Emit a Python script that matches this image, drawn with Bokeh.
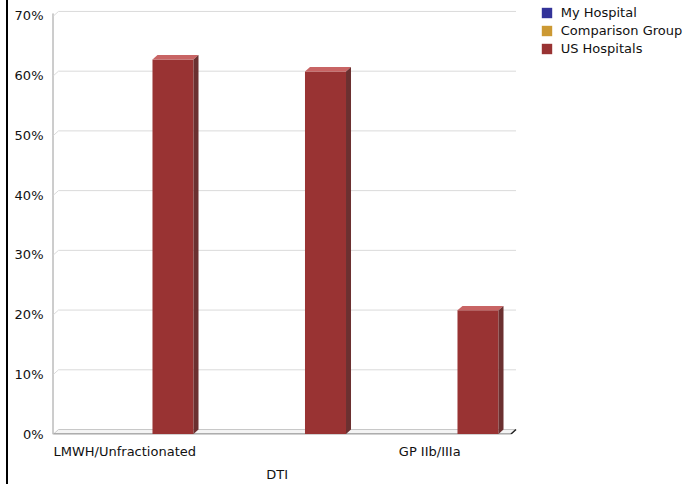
import math

from bokeh.plotting import figure
from bokeh.models import Range1d, FixedTicker, LinearAxis, Legend, LegendItem, ColumnDataSource
from bokeh.embed import file_html
from bokeh.resources import INLINE

# ---- data -------------------------------------------------------------
categories = ["LMWH/Unfractionated", "DTI", "GP IIb/IIIa"]
series_names = ["My Hospital", "Comparison Group", "US Hospitals"]
my_hospital = [None, None, None]
comparison_group = [None, None, None]
us_hospitals = [62.7, 60.7, 20.7]
y_ticks = [0, 10, 20, 30, 40, 50, 60, 70]

series_values = [my_hospital, comparison_group, us_hospitals]
front_colors = ["#333399", "#CC9933", "#993333"]
top_colors = ["#6262C0", "#E0B860", "#C86464"]
side_colors = ["#22226B", "#8C6A22", "#6B3030"]

FONT = "DejaVu Sans"
FS = "13px"

# ---- geometry in data units ------------------------------------------
n = len(categories)
px_per_x = 152.5          # pixels per category
px_per_y = 6.0            # pixels per percent
depth_x = 5 / px_per_x    # 3D depth offset (right)
depth_y = 4.5 / px_per_y  # 3D depth offset (up)
bar_w = 0.269
bar_step = 0.2836
label_shift = -5 / px_per_x   # category labels sit a little left of the slot centre

frame_top, frame_bottom, frame_left = 0, 436, 51
x0 = -2 / px_per_x
y0 = -0.5 / px_per_y
p = figure(
    width=686, height=484,
    x_range=Range1d(x0, x0 + (686 - frame_left) / px_per_x),
    y_range=Range1d(y0, y0 + (frame_bottom - frame_top) / px_per_y),
    output_backend="svg", toolbar_location=None,
    min_border_left=frame_left, min_border_right=0,
    min_border_top=frame_top, min_border_bottom=484 - frame_bottom,
    border_fill_color=None, background_fill_color=None,
    outline_line_color=None,
    styles={"background-image": "linear-gradient(to right, transparent 6px, #000 6px, #000 8px, transparent 8px)"},
)
p.xgrid.visible = False
p.ygrid.visible = False

# ---- y axis ----------------------------------------------------------
p.yaxis.ticker = FixedTicker(ticks=y_ticks)
p.yaxis.major_label_overrides = {t: f"{t}%" for t in y_ticks}
p.yaxis.axis_line_color = None
p.yaxis.major_tick_line_color = None
p.yaxis.major_tick_out = 0
p.yaxis.major_tick_in = 0
p.yaxis.minor_tick_line_color = None
p.yaxis.major_label_standoff = 8
p.yaxis.major_label_text_font = FONT
p.yaxis.major_label_text_font_size = FS
p.yaxis.major_label_text_color = "#111111"

# vertical axis line, a little taller than the top tick
axis_x = x0 + 1.5 / px_per_x
p.line([axis_x, axis_x], [y0, y_ticks[-1] + 2.5 / px_per_y],
       line_color="#9A9A9A", line_width=1)

# ---- x axes (staggered category labels) -----------------------------
centers = [i + 0.5 for i in range(n)]
label_pos = [c + label_shift for c in centers]
row1 = [label_pos[i] for i in range(n) if i % 2 == 0]
row2 = [label_pos[i] for i in range(n) if i % 2 == 1]

def style_x(ax, ticks, standoff):
    ax.ticker = FixedTicker(ticks=ticks)
    ax.major_label_overrides = {t: categories[label_pos.index(t)] for t in ticks}
    ax.axis_line_color = None
    ax.major_tick_line_color = None
    ax.major_tick_out = 0
    ax.major_tick_in = 0
    ax.minor_tick_line_color = None
    ax.major_label_standoff = standoff
    ax.major_label_text_font = FONT
    ax.major_label_text_font_size = FS
    ax.major_label_text_color = "#111111"

style_x(p.xaxis[0], row1, 9)
ax2 = LinearAxis()
style_x(ax2, row2, 5)
p.add_layout(ax2, "below")

# ---- back wall grid lines and floor ---------------------------------
x_end = float(n)
for t in y_ticks[1:]:
    p.line([0, depth_x, x_end + depth_x], [t, t + depth_y, t + depth_y],
           line_color="#DADADA", line_width=1)

p.patch([0, x_end, x_end + depth_x, depth_x], [0, 0, depth_y, depth_y],
        fill_color="#F4F4F4", line_color="#C8C8C8", line_width=1)
p.line([0, x_end], [0, 0], line_color="#9C9C9C", line_width=1.5)
p.line([x_end, x_end + depth_x], [0, depth_y], line_color="#222222", line_width=1.5)

# ---- 3D bars ---------------------------------------------------------
legend_items = []
for j, vals in enumerate(series_values):
    off = (j - 1) * bar_step
    lefts, rights, tops = [], [], []
    for i, v in enumerate(vals):
        c = centers[i] + off
        lefts.append(c - bar_w / 2)
        rights.append(c + bar_w / 2)
        tops.append(float("nan") if v is None else v)
    src = ColumnDataSource(dict(left=lefts, right=rights, top=tops, bottom=[0.0] * n))
    r = p.quad(left="left", right="right", top="top", bottom="bottom", source=src,
               fill_color=front_colors[j], line_color=None)
    legend_items.append(LegendItem(label=series_names[j], renderers=[r]))

    top_xs, top_ys, side_xs, side_ys = [], [], [], []
    for l, rr, v in zip(lefts, rights, tops):
        if math.isnan(v):
            continue
        top_xs.append([l, rr, rr + depth_x, l + depth_x])
        top_ys.append([v, v, v + depth_y, v + depth_y])
        side_xs.append([rr, rr + depth_x, rr + depth_x, rr])
        side_ys.append([0, depth_y, v + depth_y, v])
    if top_xs:
        p.patches(top_xs, top_ys, fill_color=top_colors[j], line_color=None)
        p.patches(side_xs, side_ys, fill_color=side_colors[j], line_color=None)

# ---- legend ----------------------------------------------------------
legend = Legend(
    items=legend_items, location=(488.7, 377),
    glyph_width=13, glyph_height=13, label_height=18, spacing=0,
    label_standoff=8, padding=0, margin=0,
    label_text_font=FONT, label_text_font_size=FS, label_text_color="#111111",
    border_line_color=None, background_fill_alpha=0,
)
p.add_layout(legend, "center")

open("out.html", "w").write(file_html(p, INLINE))
